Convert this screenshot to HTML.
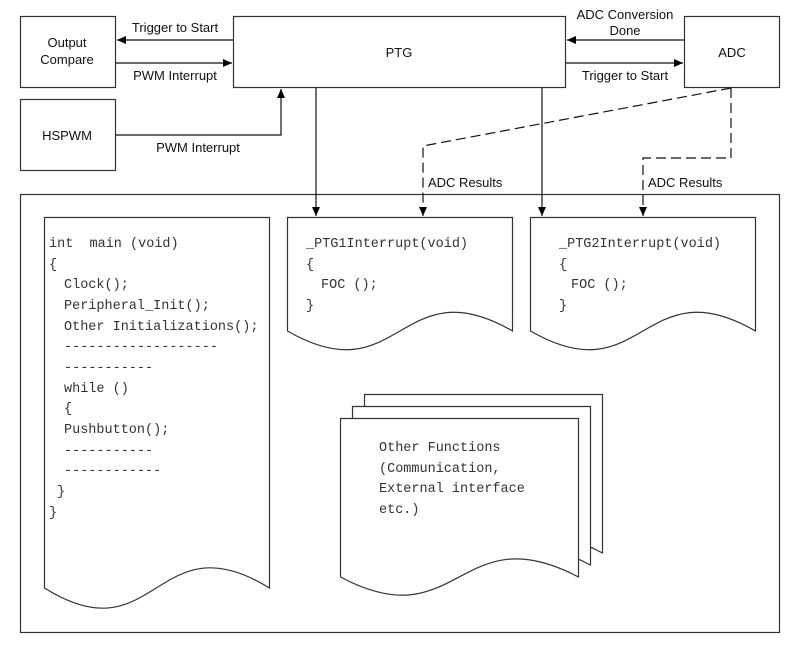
<!DOCTYPE html>
<html><head><meta charset="utf-8"><style>
html,body{margin:0;padding:0;background:#fff;}
svg{display:block;}
.s{font-family:"Liberation Sans",sans-serif;font-size:13px;fill:#111;}
.m{font-family:"Liberation Mono",monospace;font-size:13.5px;fill:#333;white-space:pre;}
</style></head><body>
<svg width="800" height="658" viewBox="0 0 800 658" xmlns="http://www.w3.org/2000/svg">
<defs><marker id="a" markerWidth="10" markerHeight="10" refX="9" refY="4" orient="auto" markerUnits="userSpaceOnUse"><path d="M0,0 L9,4 L0,8 z" fill="#000"/></marker></defs>
<g fill="none" stroke="#333" stroke-width="1.2">
<rect x="20.5" y="16.5" width="95" height="71"/>
<rect x="20.5" y="99.5" width="95" height="71"/>
<rect x="233.5" y="16.5" width="332" height="71"/>
<rect x="684.5" y="16.5" width="95" height="71"/>
<rect x="20.5" y="194.5" width="759" height="438"/>
</g>
<g stroke="#111" stroke-width="1.2" fill="none">
<line x1="233" y1="40" x2="117" y2="40" marker-end="url(#a)"/>
<line x1="116" y1="63" x2="232" y2="63" marker-end="url(#a)"/>
<polyline points="116,135 281,135 281,89" marker-end="url(#a)"/>
<line x1="684" y1="40" x2="567" y2="40" marker-end="url(#a)"/>
<line x1="566" y1="63" x2="683" y2="63" marker-end="url(#a)"/>
<line x1="316" y1="88" x2="316" y2="216" marker-end="url(#a)"/>
<line x1="542" y1="88" x2="542" y2="216" marker-end="url(#a)"/>
<polyline points="731,88 423,146 423,216" stroke-dasharray="10,5" marker-end="url(#a)"/>
<polyline points="731,88 731,158 643,158 643,216" stroke-dasharray="10,5" marker-end="url(#a)"/>
</g>
<g fill="#fff" stroke="#333" stroke-width="1.2">
<path d="M44.5,588 L44.5,217.5 L269.5,217.5 L269.5,588 C156,518 156,658 44.5,588 Z"/>
<path d="M287.5,331 L287.5,217.5 L512.5,217.5 L512.5,331 C400,266 400,396 287.5,331 Z"/>
<path d="M530.5,331 L530.5,217.5 L755.5,217.5 L755.5,331 C643,266 643,396 530.5,331 Z"/>
<path d="M364.5,553 L364.5,394.5 L602.5,394.5 L602.5,553 C483,490 483,616 364.5,553 Z"/>
<path d="M352.5,565 L352.5,406.5 L590.5,406.5 L590.5,565 C471,502 471,628 352.5,565 Z"/>
<path d="M340.5,577 L340.5,418.5 L578.5,418.5 L578.5,577 C459,514 459,640 340.5,577 Z"/>
</g>
<g class="s">
<text x="67" y="47" text-anchor="middle">Output</text>
<text x="67" y="64" text-anchor="middle">Compare</text>
<text x="67" y="140" text-anchor="middle">HSPWM</text>
<text x="399" y="57" text-anchor="middle">PTG</text>
<text x="732" y="57" text-anchor="middle">ADC</text>
<text x="175" y="32" text-anchor="middle">Trigger to Start</text>
<text x="175" y="80" text-anchor="middle">PWM Interrupt</text>
<text x="198" y="152" text-anchor="middle">PWM Interrupt</text>
<text x="625" y="19" text-anchor="middle">ADC Conversion</text>
<text x="625" y="35" text-anchor="middle">Done</text>
<text x="625" y="80" text-anchor="middle">Trigger to Start</text>
<text x="428" y="187">ADC Results</text>
<text x="648" y="187">ADC Results</text>
</g>
<g class="m">
<text x="49" y="247">int&#160; main (void)</text>
<text x="49" y="268">{</text>
<text x="64" y="288">Clock();</text>
<text x="64" y="309">Peripheral_Init();</text>
<text x="64" y="330">Other Initializations();</text>
<text x="64" y="350">-------------------</text>
<text x="64" y="371">-----------</text>
<text x="64" y="392">while ()</text>
<text x="64" y="412">{</text>
<text x="64" y="433">Pushbutton();</text>
<text x="64" y="454">-----------</text>
<text x="64" y="474">------------</text>
<text x="57" y="495">}</text>
<text x="49" y="516">}</text>
<text x="306" y="247">_PTG1Interrupt(void)</text>
<text x="306" y="268">{</text>
<text x="321" y="288">FOC ();</text>
<text x="306" y="309">}</text>
<text x="559" y="247">_PTG2Interrupt(void)</text>
<text x="559" y="268">{</text>
<text x="571" y="288">FOC ();</text>
<text x="559" y="309">}</text>
<text x="379" y="451">Other Functions</text>
<text x="379" y="472">(Communication,</text>
<text x="379" y="492">External interface</text>
<text x="379" y="513">etc.)</text>
</g>
</svg>
</body></html>
